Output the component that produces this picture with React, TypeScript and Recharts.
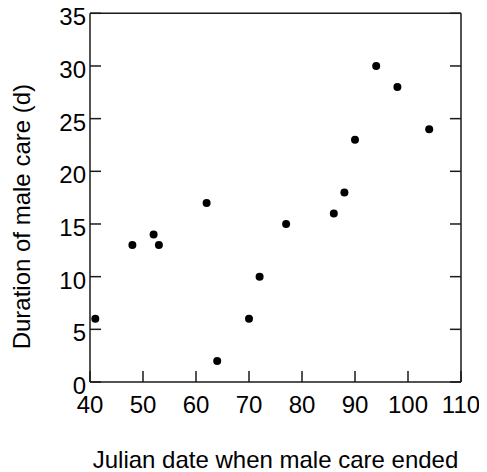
import React from 'react';
import { ScatterChart, Scatter, XAxis, YAxis, Label } from 'recharts';

const julianDates = [41, 48, 52, 53, 62, 64, 70, 72, 77, 86, 88, 90, 94, 98, 104];
const careDurations = [6, 13, 14, 13, 17, 2, 6, 10, 15, 16, 18, 23, 30, 28, 24];
const xTicks = [40, 50, 60, 70, 80, 90, 100, 110];
const yTicks = [0, 5, 10, 15, 20, 25, 30, 35];

const data = julianDates.map((x, i) => ({ x, y: careDurations[i] }));

const FONT = '"Liberation Sans", Arial, Helvetica, sans-serif';
const AXIS = '#1a1a1a';

const Dot = (props: any) => <circle cx={props.cx} cy={props.cy} r={4} fill="#000" />;

const YTitle = (props: any) => {
  const vb = props.viewBox || {};
  const cx = 22;
  const cy = (vb.y ?? 13) + (vb.height ?? 369) / 2 + 19;
  return (
    <text
      x={cx}
      y={cy}
      transform={`rotate(-90, ${cx}, ${cy})`}
      textAnchor="middle"
      dominantBaseline="central"
      fontSize={24}
      fontFamily={FONT}
      fill="#000"
    >
      Duration of male care (d)
    </text>
  );
};

export default function App() {
  return (
    <div style={{ margin: '-8px 0 0 -8px', width: 487, height: 472 }}>
      <ScatterChart
        width={487}
        height={472}
        margin={{ top: 12.3, right: 25, bottom: 0, left: 0 }}
        style={{ fontFamily: FONT }}
      >
        <XAxis
          xAxisId="b"
          dataKey="x"
          type="number"
          domain={[40, 110]}
          ticks={xTicks}
          orientation="bottom"
          height={90}
          tickSize={-11}
          tickMargin={25}
          stroke={AXIS}
          strokeWidth={1.5}
          tick={{ fill: '#000', fontSize: 24, fontFamily: FONT }}
          interval={0}
          allowDataOverflow
        >
          <Label
            value="Julian date when male care ended"
            position="insideBottom"
            offset={4}
            style={{ fontSize: 24, fontFamily: FONT, fill: '#000' }}
          />
        </XAxis>
        <XAxis
          xAxisId="t"
          type="number"
          domain={[40, 110]}
          ticks={xTicks}
          orientation="top"
          height={1}
          tickSize={-11}
          stroke={AXIS}
          strokeWidth={1.5}
          tickFormatter={() => ''}
          interval={0}
          allowDataOverflow
        />
        <YAxis
          yAxisId="l"
          dataKey="y"
          type="number"
          domain={[0, 35]}
          ticks={yTicks}
          orientation="left"
          width={90}
          tickSize={-11}
          tickMargin={15}
          stroke={AXIS}
          strokeWidth={1.5}
          tick={{ fill: '#000', fontSize: 24, fontFamily: FONT, dy: 3.5 }}
          interval={0}
          allowDataOverflow
        >
          <Label content={YTitle} />
        </YAxis>
        <YAxis
          yAxisId="r"
          type="number"
          domain={[0, 35]}
          ticks={yTicks}
          orientation="right"
          width={1}
          tickSize={-11}
          stroke={AXIS}
          strokeWidth={1.5}
          tickFormatter={() => ''}
          interval={0}
          allowDataOverflow
        />
        <Scatter
          data={data}
          xAxisId="b"
          yAxisId="l"
          shape={Dot}
          isAnimationActive={false}
        />
      </ScatterChart>
    </div>
  );
}
